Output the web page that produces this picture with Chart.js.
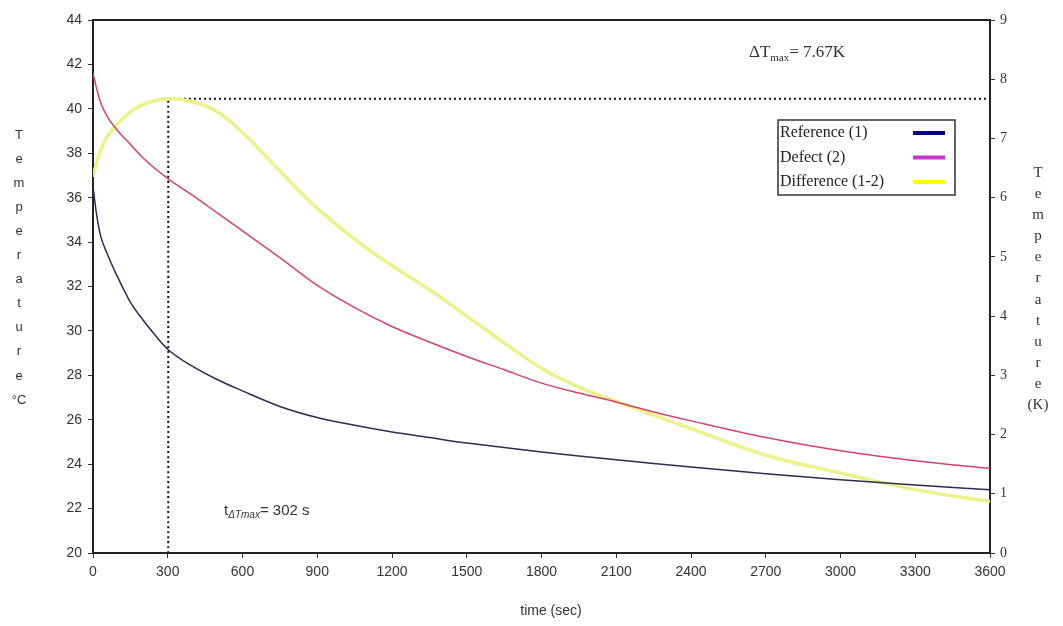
<!DOCTYPE html>
<html>
<head>
<meta charset="utf-8">
<script src="https://cdn.jsdelivr.net/npm/chart.js@4.4.1/dist/chart.umd.min.js"></script>
<style>
  html, body { margin: 0; padding: 0; background: #fff; }
  #wrap { width: 1063px; height: 626px; position: relative; }
</style>
</head>
<body>
<div id="wrap"><canvas id="grafico"></canvas></div>
<script>
// tiempos de lectura (s)
const tiempos = [0, 15, 30, 60, 100, 150, 200, 250, 302, 400, 500, 600, 750, 900, 1050, 1200, 1350, 1500, 1650, 1800, 1950, 2100, 2250, 2400, 2700, 3000, 3300, 3600];
// Reference (1), °C
const tempReferencia = [36.5, 35.2, 34.3, 33.4, 32.4, 31.3, 30.5, 29.8, 29.15, 28.4, 27.8, 27.3, 26.6, 26.1, 25.75, 25.45, 25.2, 24.95, 24.75, 24.55, 24.37, 24.2, 24.03, 23.87, 23.57, 23.3, 23.06, 22.85];
// Defect (2), °C
const tempDefecto = [41.6, 40.9, 40.3, 39.6, 39.0, 38.4, 37.8, 37.3, 36.85, 36.1, 35.3, 34.5, 33.3, 32.05, 31.05, 30.2, 29.5, 28.85, 28.25, 27.65, 27.2, 26.8, 26.35, 25.95, 25.2, 24.6, 24.15, 23.8];
// Difference (1-2), K
const difK = [6.35, 6.6, 6.8, 7.05, 7.25, 7.45, 7.57, 7.64, 7.67, 7.62, 7.45, 7.1, 6.45, 5.82, 5.3, 4.85, 4.45, 4.0, 3.55, 3.12, 2.8, 2.56, 2.33, 2.1, 1.65, 1.35, 1.07, 0.87];

const nombresSeries = ['Reference (1)', 'Defect (2)', 'Difference (1-2)'];
const tMax = 302;
const dTMax = 7.67;
const tiempoFinal = 3600;

const coloresLinea = ['#2b2b55', '#d8416e', '#eef08a'];
const coloresLeyenda = ['#000080', '#cc33cc', '#ffff00'];

function puntos(valores) {
    return tiempos.map((t, i) => ({ x: t, y: valores[i] }));
}

// marco, textos, leyenda
const extras = {
    id: 'extras',
    afterDraw(chart) {
        const ctx = chart.ctx;
        const a = chart.chartArea;
        ctx.save();
        // linea superior del marco
        ctx.strokeStyle = '#222';
        ctx.lineWidth = 2;
        ctx.beginPath();
        ctx.moveTo(a.left, a.top);
        ctx.lineTo(a.right, a.top);
        ctx.stroke();

        // titulos verticales
        ctx.fillStyle = '#333';
        ctx.textAlign = 'center';
        ctx.textBaseline = 'middle';
        ctx.font = '13px "Liberation Sans", Arial, sans-serif';
        const izq = ['T', 'e', 'm', 'p', 'e', 'r', 'a', 't', 'u', 'r', 'e', '°C'];
        izq.forEach((c, i) => ctx.fillText(c, 19, 135 + i * 24.1));
        ctx.font = '15px "Liberation Serif", "Times New Roman", serif';
        const der = ['T', 'e', 'm', 'p', 'e', 'r', 'a', 't', 'u', 'r', 'e', '(K)'];
        der.forEach((c, i) => ctx.fillText(c, 1038, 173 + i * 21.1));

        // eje x
        ctx.font = '14px "Liberation Sans", Arial, sans-serif';
        ctx.fillText('time (sec)', 551, 611);

        // Delta T max
        ctx.textAlign = 'left';
        ctx.font = '17px "Liberation Serif", "Times New Roman", serif';
        let x = 749, y = 53;
        ctx.fillText('\u0394T', x, y);
        x += ctx.measureText('\u0394T').width;
        ctx.font = '11px "Liberation Serif", serif';
        ctx.fillText('max', x, y + 5);
        x += ctx.measureText('max').width;
        ctx.font = '17px "Liberation Serif", "Times New Roman", serif';
        ctx.fillText('= ' + dTMax + 'K', x, y);

        // t Delta T max
        ctx.font = '15px "Liberation Sans", Arial, sans-serif';
        x = 224; y = 511;
        ctx.fillText('t', x, y);
        x += ctx.measureText('t').width;
        ctx.font = 'italic 10px "Liberation Sans", sans-serif';
        ctx.fillText('\u0394Tmax', x, y + 4);
        x += ctx.measureText('\u0394Tmax').width;
        ctx.font = '15px "Liberation Sans", Arial, sans-serif';
        ctx.fillText('= ' + tMax + ' s', x, y);

        // leyenda
        ctx.fillStyle = '#fff';
        ctx.fillRect(778, 120, 177, 75);
        ctx.strokeStyle = '#333';
        ctx.lineWidth = 1.5;
        ctx.strokeRect(778, 120, 177, 75);
        ctx.font = '16px "Liberation Serif", "Times New Roman", serif';
        nombresSeries.forEach((n, i) => {
            const yy = 133 + i * 24.5;
            ctx.fillStyle = '#222';
            ctx.fillText(n, 780, yy);
            ctx.strokeStyle = coloresLeyenda[i];
            ctx.lineWidth = 4;
            ctx.beginPath();
            ctx.moveTo(913, yy);
            ctx.lineTo(945, yy);
            ctx.stroke();
        });
        ctx.restore();
    }
};

const fuenteTicks = { family: '"Liberation Sans", Arial, sans-serif', size: 14 };

const ctx = document.getElementById('grafico').getContext('2d');
new Chart(ctx, {
    type: 'line',
    data: {
        datasets: [{
            label: nombresSeries[0],
            data: puntos(tempReferencia),
            borderColor: coloresLinea[0],
            borderWidth: 1.5,
            yAxisID: 'y'
        }, {
            label: nombresSeries[1],
            data: puntos(tempDefecto),
            borderColor: coloresLinea[1],
            borderWidth: 1.5,
            yAxisID: 'y'
        }, {
            label: nombresSeries[2],
            data: puntos(difK),
            borderColor: coloresLinea[2],
            borderWidth: 3.5,
            yAxisID: 'y2'
        }, {
            label: 'tmax',
            data: [{ x: tMax, y: 0 }, { x: tMax, y: dTMax }, { x: tiempoFinal, y: dTMax }],
            borderColor: '#111',
            borderWidth: 2,
            borderDash: [2, 3],
            tension: 0,
            yAxisID: 'y2'
        }]
    },
    options: {
        responsive: true,
        maintainAspectRatio: false,
        animation: false,
        layout: { padding: { top: 20, right: 0, left: 0, bottom: 0 } },
        elements: {
            point: { radius: 0 },
            line: { tension: 0.4, cubicInterpolationMode: 'monotone' }
        },
        plugins: {
            legend: { display: false },
            tooltip: { enabled: false }
        },
        scales: {
            x: {
                type: 'linear',
                min: 0,
                max: tiempoFinal,
                ticks: {
                    stepSize: 300,
                    color: '#333',
                    padding: 6,
                    maxRotation: 0,
                    font: fuenteTicks,
                    callback: function (value) {
                        return String(value);
                    }
                },
                grid: { drawOnChartArea: false, tickLength: 5, color: '#333' },
                border: { color: '#222', width: 2 },
                afterFit(s) { s.height = 73; }
            },
            y: {
                position: 'left',
                min: 20,
                max: 44,
                ticks: {
                    stepSize: 2,
                    color: '#333',
                    padding: 6,
                    font: fuenteTicks
                },
                grid: { drawOnChartArea: false, tickLength: 5, color: '#333' },
                border: { color: '#222', width: 2 },
                afterFit(s) { s.width = 93; }
            },
            y2: {
                position: 'right',
                min: 0,
                max: 9,
                ticks: {
                    stepSize: 1,
                    color: '#333',
                    padding: 5,
                    font: { family: '"Liberation Serif", serif', size: 14 }
                },
                grid: { drawOnChartArea: false, tickLength: 5, color: '#333' },
                border: { color: '#222', width: 2 },
                afterFit(s) { s.width = 73; }
            }
        }
    },
    plugins: [extras]
});
</script>
</body>
</html>
